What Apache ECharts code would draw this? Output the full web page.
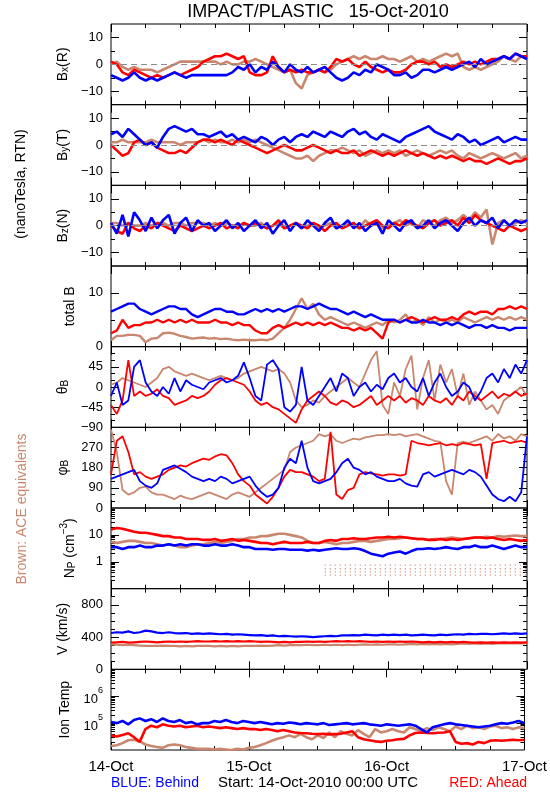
<!DOCTYPE html>
<html><head><meta charset="utf-8">
<script src="https://cdn.jsdelivr.net/npm/echarts@6/dist/echarts.min.js"></script>
<style>html,body{margin:0;padding:0;background:#fff}#c{width:550px;height:800px}</style>
</head><body><div id="c"></div>
<script>
// ---------- DATA (hours since 14-Oct-2010 00:00 UTC) ----------
const hours = [0,1,2,3,4,5,6,7,8,9,10,11,12,13,14,15,16,17,18,19,20,21,22,23,24,25,26,27,28,29,30,31,32,33,34,35,36,37,38,39,40,41,42,43,44,45,46,47,48,49,50,51,52,53,54,55,56,57,58,59,60,61,62,63,64,65,66,67,68,69,70,71,72];
const dayLabels = ['14-Oct','15-Oct','16-Oct','17-Oct'];

// Bx (R), nT
const bxBlue = [-4,-5,-6,-5,-3,-5, -6,-5,-6,-5,-4, -3,-4,-5,-4,-4, -4,-4,-4,-4,-4,-3, -1,-2, 0,-3,-1,-2,1, -1,-3,0,-2,-3,-1, -3,-2,-1,-3, -5,-6,-5, -3,-4,-2,-3, 0,-1,-2,-4, -4,-3,-5,-4, -2,-2,-3,-2,-1,-2, -1,0,1,-1,2,0,1, 2,3,2,4,3,2];
const bxRed  = [1,0, -3,-4,-2,-3, -4,-5,-4,-5,-4, -3,-4,-3,-2,-1, 1,2, 3,3,4,3,2,3, -3,-4,-4,-3,3, -1,-3,-2,-3,-2,-3, -3,-2,-3,-1, 2,1,2, 0,-1,1,-1, -2,-3,-2,-3, -3,-2,0,1, 1,0,1,-1,0,-1, 0,1,0,1,0,1,2, 2,3,2,4,3,3];
const bxBrown= [0,1,-1,-2,-1,-2, -2,-2,-3,-2,-1, 0,1,1,1,1, 1,1,1,0,1,0, 0,1, 1,2,1,0,-1, -2,-3,-2,-7,-9,-4, -3,-2,-3,-2, 0,1,2, 3,2,3,2, 2,3,2,2, 1,2,3,1, 2,1,2,3,4,3, 4,-1,-2,-1,-2,-1,0, 1,3,2,1,3,2];

// By (T), nT
const byBlue = [4,5,3,6,4,2,0,1,-1,3,6,7,6,5,6,4,4, 3,4,5,3,4,2,3,2, 1,3,2,0,2,3,1,3, 4,3,5,4,3,5,4,3, 5,6,4,5,3,2,4,3, 2,1,3,4,5,6,7,5,4, 3,2,4,3,1,2,0, 1,2,3,1,2,3,2,2];
const byRed  = [0,-2,-4,-3,1,2,0,1,-1,-2,-3,-3,-2,-3,-1,1,2, 2,1,2,1,0,2,1,0, -1,-2,-3,-2,-1,0,-1,-2, -2,-1,0,-1,-2,-3,-2,-3, -3,-2,-4,-3,-2,-3,-4,-3, -4,-3,-2,-3,-4,-3,-4,-5,-4, -5,-4,-5,-6,-5,-6,-6, -7,-6,-5,-6,-7,-6,-6,-5];
const byBrown= [1,1,2,1,1,1,1,2,1,1,1,1,0,1,1,1,2, 1,2,1,1,2,1,2,1, 2,1,0,-1,-2,-3,-4,-5, -5,-4,-6,-4,-3,-2,-2,-1, -2,-3,-2,-4,-3,-2,-3,-2, -3,-2,-4,-3,-2,-3,-4,-3,-2, -3,-2,-4,-5,-3,-4,-5, -4,-3,-4,-5,-4,-3,-5,-4];

// Bz (N), nT
const bzBlue = [1,-3,4,-4,5,2,-2,3,-1,2,4,-3,1,3,-2,2,0, 1,-2,0,2,-1,1,-2,0, 2,-1,1,-3,0,2,-2,1, -1,2,0,-2,1,3,-1,0, 2,-1,1,-2,0,1,-3,2, 0,-2,1,2,-1,0,2,-1,1, 2,0,-2,1,3,0,2, 1,3,-1,2,0,2,1,2];
const bzRed  = [0,-2,-3,1,-1,-2,0,-1,1,0,-1,-2,0,-1,-2,-1,0, -1,0,1,-1,0,-1,1,0, 1,0,-1,0,2,-1,0,1, 0,-1,1,0,-2,0,1,-1, 0,1,-1,0,1,2,0,-1, 1,0,2,1,0,-1,1,2,0, 1,2,0,3,1,4,2, 1,0,-1,-2,0,-1,-2,-1];
const bzBrown= [1,1,0,1,0,0,1,0,1,1,0,1,1,0,1,1,1, 0,1,0,1,0,0,1,0, 0,1,-1,0,1,-1,0,1, -1,0,1,-1,0,1,-1,0, 1,0,-1,2,0,1,-1,0, 1,2,0,1,-1,2,1,0,2, 3,1,2,4,2,5,3, 6,-7,1,2,0,1,2,1];

// total B, nT
const btBlue = [6.5,7,7.5,8,8,7,6.5,6,6.5,7,7.5,7.5,7,7,6,5.5,6, 6.5,7,7,6.5,6.5,6,6,6.5, 7,6.5,7,6.5,7,6.5,7,7.5, 7.5,7,7.5,8,7.5,7,7,6.5, 6,6.5,6,5.5,6,5.5,5,5, 5,4.5,5,4.5,4.5,5,4.5,4.5,4, 4.5,4,4.5,4,3.5,4,4, 3.5,4,3.5,3.5,3,3.5,3.5,3.5];
const btRed  = [2.5,3,5,3.5,4,4,4.5,4.5,5,4.5,5,4.5,5,4.5,5,4.5,4.5, 4.5,5,4.5,4.5,4,4.5,4,4, 3,2.5,2.5,3.5,4,3.5,4,4.5, 4,4.5,4,4.5,4,4.5,4,3.5, 3.5,3,3.5,3,3.5,2.5,1.5,4.5, 5,4.5,5,5.5,5,4.5,5,5.5,5, 5,5.5,5,6,6.5,6,6.5, 6.5,6,7,7,7.5,7,7.5,7];
const btBrown= [1.2,2,2,2.2,2.2,2,0.8,1.5,1.6,2.5,2.6,2.4,2,1.8,1.5,1.6,1.7, 1.5,1.6,1.4,1.5,1.3,1.2,1.3,1.2, 1.2,1.3,1.2,1.5,2.5,3.5,5,7, 9,7,8,6,5,5.5,5,4.5, 4,4.5,4,3.5,4,4.5,4,5, 4.5,5,6,4.5,5,4,5.5,4.5,5, 4.5,5,4.5,5.5,5,4.5,5, 5.5,5,5.5,5,5.5,5,5.5,5];

// theta_B, degrees
const thBlue = [-20,10,-40,-30,45,60,10,-10,-20,0,-15,20,-10,15,5,0,-5, 10,15,20,10,15,25,55,20, -20,-30,50,60,40,-45,-55,-40, 45,-30,-40,-20,0,20,-10,30, 20,-20,0,10,-10,5,-5,20, 30,10,20,0,-10,20,-20,10,30, 0,-20,-10,10,0,-30,-10, 20,30,10,40,20,50,30,60];
const thRed  = [-40,-60,-30,60,-20,-10,-20,-15,-5,-20,-25,-40,-35,-30,-20,-25,-20, -10,5,15,20,15,10,5,-10, -30,-40,-35,-45,-50,-60,-70,-80, -50,-30,-20,-10,-20,-35,-40,-30, -35,-45,-40,-30,-20,-40,-30,-20, -30,-20,-35,-25,-30,-40,-20,-30,-35, -25,-40,-20,-30,-10,-20,-30, -20,-10,-25,-15,-20,-10,-20,-15];
const thBrown= [5,10,20,15,10,5,0,10,20,40,45,35,30,25,30,25,20, 15,20,25,20,15,20,30,35, 40,45,40,35,40,30,10,-30, -45,-40,-30,-35,-20,-10,0,10, 20,10,0,30,60,80,-40,-60, 10,-20,40,70,-50,20,60,-30,50, 10,40,-20,30,-40,-10,-30, -50,-40,-60,-30,-20,-10,0,-20];

// phi_B, degrees
const phBlue = [130,140,150,160,170,120,100,90,110,170,180,190,175,160,140,130,120, 130,120,140,130,110,120,130,140, 100,70,50,60,90,180,220,200, 300,180,120,110,120,130,160,200, 220,180,170,150,160,140,130,120, 120,130,110,100,95,150,160,140,150, 160,170,160,150,170,160,140, 100,60,40,30,50,30,70,320];
const phRed  = [150,300,320,250,150,160,140,130,140,150,170,180,190,185,200,210,220, 215,230,240,235,200,150,120,100, 60,40,20,50,90,140,170,160, 160,150,140,120,130,340,60,40, 80,90,150,160,155,150,145,150, 150,145,150,300,290,285,280,285,290, 280,285,280,290,285,280,285, 130,290,295,300,290,295,300,290];
const phBrown= [350,250,80,60,70,90,95,70,60,60,50,40,55,45,40,50,60, 70,60,50,40,60,70,60,50, 70,90,110,130,150,170,250,270, 280,290,300,330,320,330,300,290, 300,310,305,315,320,325,325,330, 325,330,320,325,330,320,310,300,295, 120,60,290,295,290,300,310, 320,300,330,310,320,300,330,320];

// Np, cm^-3
const npBlue = [3.5,3.5,3,3.5,3.5,4,3.5,3.5,4,4,4.5,4,4.5,4,4.5,4.5,4, 4,4.5,4,4,4.5,4,3.5,3.5, 3,3,3,2.8,3,3,2.8,2.8, 2.8,2.6,2.8,2.6,2.8,3,3.2,3, 3,3.2,3,2.5,2,1.8,1.6,2, 2.2,2.4,2,2.5,3,3,3.2,3,3.2, 3.5,3.2,3,3.5,3.5,4,3.5, 3.5,4,3.5,3,3.5,4,3.5,3.5];
const npRed  = [16,18,17,15,13,12,12,11,10,9,9,8,8,7,7,7,6.5, 6.5,7,6,6.5,7,6,6.5,6, 5.5,5,5,4.5,5,5.5,5,5, 5,5.5,5,5,6,6.5,6,7, 7,7.5,7,7,7.5,8,8,8.5, 8,8.5,8,7.5,7,7,6.5,6.5,7, 6.5,7,6.5,7,7.5,8,8, 7.5,8,7,6.5,7,6.5,6,6.5];
const npBrown= [5.5,5,5.5,6,6,5.5,5,5,4.5,4,4.5,4,3.5,3.5,4,4.5,4.5, 5,5.5,5,5.5,6,7,7,8, 8,9,9,10,11,11,10,9, 8,6,5,5,5.5,5,4.5,5, 5,5.5,6,6,5.5,6,6.5,7, 7,7.5,8,7.5,7,7,6.5,7,7, 7.5,8,7.5,7,7.5,8,8, 8.5,8,9,8.5,9,9.5,9,9];
// quantised low ACE density rows (cm^-3) and the hours they span
const npBrownLowLevels = [0.75,0.55,0.42,0.32];
const npBrownLowSpan = [37,72];

// V, km/s
const vBlue = [450,460,455,470,450,460,480,470,455,450,460,450,445,450,440,445,440, 445,440,435,440,430,435,430,425, 420,425,415,420,410,415,410,405, 410,405,400,405,410,415,410,420, 420,425,420,430,425,420,430,425, 430,425,430,420,425,430,425,420,430, 425,430,435,430,440,435,440, 440,435,440,445,440,445,440,445];
const vRed  = [330,335,340,330,335,340,345,340,335,340,345,340,345,340,345,350,345, 345,350,345,350,345,350,345,350, 345,340,345,340,335,340,335,340, 340,345,340,345,340,345,350,345, 350,345,350,345,340,345,340,345, 340,345,340,345,340,335,340,335,340, 335,340,335,340,335,330,335, 330,335,330,335,330,335,330,335];
const vBrown= [310,305,300,305,300,295,290,290,290,295,290,290,285,290,285,290,290, 290,285,290,285,290,285,290,290, 290,295,290,295,300,295,300,300, 300,305,300,300,305,300,305,300, 305,300,305,310,305,310,305,310, 310,305,310,315,310,315,310,315,310, 315,310,315,320,315,320,315, 320,315,320,325,320,325,320,325];

// Ion temperature, K
const tBlue = [1.1e5,1.0e5,1.2e5,0.9e5,1.3e5,1.5e5,1.2e5,1.4e5,1.1e5,1.5e5,1.2e5,1.1e5,1.3e5,1.0e5,1.1e5,0.9e5,1.0e5, 1.0e5,1.2e5,1.1e5,1.3e5,1.1e5,1.0e5,1.2e5,1.1e5, 1.0e5,1.1e5,1.0e5,0.9e5,1.0e5,0.95e5,1.05e5,1.0e5, 0.9e5,1.0e5,0.95e5,0.9e5,1.0e5,0.85e5,0.9e5,0.95e5, 1.0e5,0.9e5,0.95e5,1.0e5,0.9e5,0.85e5,0.8e5,0.9e5, 0.85e5,0.8e5,0.85e5,0.9e5,0.8e5,0.6e5,0.45e5,0.7e5,0.8e5, 0.9e5,1.0e5,0.9e5,0.85e5,0.8e5,0.75e5,0.7e5, 0.75e5,0.8e5,0.9e5,1.0e5,0.95e5,1.05e5,1.2e5,1.0e5];
const tRed  = [3.5e4,3.2e4,3.6e4,4.2e4,3.0e4,2.0e4,6e4,8e4,7e4,9e4,8e4,7.5e4,8e4,7e4,7.5e4,8e4,7e4, 7.5e4,7e4,6.5e4,7e4,6.5e4,6e4,6.5e4,6e4, 6e4,5.5e4,6e4,5.5e4,5e4,5.5e4,5e4,4.5e4, 4.3e4,4.2e4,4e4,3.9e4,4e4,3.8e4,3.9e4,4e4, 4.5e4,5e4,3e4,2.5e4,2.3e4,2.1e4,2e4,2.2e4, 2.3e4,2.5e4,2.6e4,3.5e4,4.3e4,4.5e4,4.3e4,4.2e4,4.4e4, 4.5e4,5e4,2e4,1.7e4,1.8e4,1.6e4,2e4, 1.8e4,2.2e4,2.3e4,2.2e4,2.3e4,2.4e4,2.3e4,2.4e4];
const tBrown= [1.4e4,1.5e4,1.8e4,2.3e4,2.4e4,2.1e4,1.6e4,1.4e4,1.3e4,1.2e4,1.5e4,1.6e4,1.5e4,1.3e4,1.2e4,1.1e4,1.1e4, 1.1e4,1.05e4,1.1e4,1.05e4,1.0e4,1.1e4,1.05e4,1.2e4, 1.3e4,1.5e4,1.8e4,2.2e4,2.6e4,3e4,3.5e4,3e4, 4e4,3e4,2.5e4,3.5e4,2.8e4,4.5e4,3e4,5e4, 4e4,3.5e4,5.5e4,4e4,3e4,6e4,4.5e4,5e4, 6e4,5e4,4.5e4,7e4,6e4,5e4,6.5e4,5.5e4,7e4, 6e4,5e4,7.5e4,6e4,8e4,6.5e4,7e4, 6e4,7.5e4,8e4,6.5e4,7e4,6e4,7e4,6.5e4];

// tick values
const bTicksMajor = [-10,0,10], bTicksMinor = [-5,5], bLabels = [-10,0,10];
const btTicksMajor = [0,10], btTicksMinor = [5], btLabels = [0,10];
const thTicksMajor = [-45,0,45], thTicksMinor = [-75,-60,-30,-15,15,30,60,75], thLabels = [-90,-45,0,45];
const phTicksMajor = [90,180,270], phTicksMinor = [30,60,120,150,210,240,300,330], phLabels = [0,90,180,270];
const npTicksMajor = [1,10], npTicksMinor = [0.2,0.3,0.4,0.5,0.6,0.7,0.8,0.9,2,3,4,5,6,7,8,9,20,30,40,50,60,70,80,90], npLabels = [1,10];
const vTicksMajor = [400,800], vTicksMinor = [100,200,300,500,600,700,900], vLabels = [0,400,800];
const tTicksMajor = [1e5,1e6], tTicksMinor = [2e4,3e4,4e4,5e4,6e4,7e4,8e4,9e4,2e5,3e5,4e5,5e5,6e5,7e5,8e5,9e5,2e6,3e6,4e6,5e6,6e6,7e6,8e6,9e6], tLabels = [1e5,1e6];

// ---------- STYLE / LAYOUT ----------
const FONT = '"Liberation Sans", Arial, sans-serif';
const BLUE = '#0000ff', RED = '#ff0000', BROWN = '#c8876e';
const minusFmt = v => (v < 0 ? '\u2212' + Math.abs(v) : String(v));
const nameRich = {
  a: {fontSize: 14, fontFamily: FONT, color: '#000', lineHeight: 18, verticalAlign: 'bottom'},
  s: {fontSize: 10, fontFamily: FONT, color: '#000', lineHeight: 10, verticalAlign: 'bottom'},
  p: {fontSize: 10, fontFamily: FONT, color: '#000', lineHeight: 10, verticalAlign: 'top'}
};
const panels = [
  {name: '{a|B}{s|x}{a|(R)}', gap: 38, type: 'value', min: -15, max: 15, major: bTicksMajor, minor: bTicksMinor, labels: bLabels, d: [bxBrown, bxRed, bxBlue], w: 2.6, zero: true},
  {name: '{a|B}{s|y}{a|(T)}', gap: 38, type: 'value', min: -15, max: 15, major: bTicksMajor, minor: bTicksMinor, labels: bLabels, d: [byBrown, byRed, byBlue], w: 2.6, zero: true},
  {name: '{a|B}{s|z}{a|(N)}', gap: 38, type: 'value', min: -15, max: 15, major: bTicksMajor, minor: bTicksMinor, labels: bLabels, d: [bzBrown, bzRed, bzBlue], w: 2.6, zero: true},
  {name: '{a|total B}', gap: 27, type: 'value', min: 0, max: 15, major: btTicksMajor, minor: btTicksMinor, labels: btLabels, d: [btBrown, btRed, btBlue], w: 2.4},
  {name: '{a|\u03b8}{s|B}', gap: 32, type: 'value', min: -90, max: 90, major: thTicksMajor, minor: thTicksMinor, labels: thLabels, d: [thBrown, thRed, thBlue], w: 1.8},
  {name: '{a|\u03c6}{s|B}', gap: 31, type: 'value', min: 0, max: 360, major: phTicksMajor, minor: phTicksMinor, labels: phLabels, d: [phBrown, phRed, phBlue], w: 1.8},
  {name: '{a|N}{s|P}{a| (cm}{p|\u22123}{a|)}', gap: 24, type: 'log', min: 0.1, max: 100, major: npTicksMajor, minor: npTicksMinor, labels: npLabels, d: [npBrown, npRed, npBlue], w: 2.6, low: true},
  {name: '{a|V (km/s)}', gap: 36, type: 'value', min: 0, max: 1000, major: vTicksMajor, minor: vTicksMinor, labels: vLabels, d: [vBrown, vRed, vBlue], w: 2.2},
  {name: '{a|Ion Temp}', gap: 32, type: 'log', min: 1e4, max: 1e7, major: tTicksMajor, minor: tTicksMinor, labels: tLabels, d: [tBrown, tRed, tBlue], w: 2.6, exp: true}
];

const TOP = 24, PH = 726 / 9, LEFT = 111, W = 416;
const grids = [], xAxes = [], yAxes = [], series = [];
panels.forEach((p, i) => {
  grids.push({left: LEFT, width: W, top: TOP + i * PH, height: PH, show: true, borderColor: '#000', borderWidth: 1, backgroundColor: 'transparent'});
  const xBase = {gridIndex: i, type: 'value', min: 0, max: 72, interval: 24,
    axisLine: {show: false, onZero: false}, splitLine: {show: false},
    axisTick: {show: true, inside: true, length: 8, lineStyle: {color: '#000', width: 1}},
    minorTick: {show: true, splitNumber: 4, length: 4, lineStyle: {color: '#000', width: 1}},
    axisLabel: {show: false}};
  const xb = Object.assign({}, xBase, {position: 'bottom'});
  if (i === panels.length - 1) {
    xb.axisLabel = {show: true, margin: 9, fontSize: 15, fontFamily: FONT, color: '#000', formatter: v => dayLabels[Math.round(v / 24)]};
  }
  xAxes.push(xb);
  xAxes.push(Object.assign({}, xBase, {position: 'top'}));
  const mk = (pos, major) => {
    const a = {gridIndex: i, type: p.type, min: p.min, max: p.max, position: pos,
      axisLine: {show: false, onZero: false}, splitLine: {show: false}, minorTick: {show: false},
      axisLabel: {show: false},
      axisTick: {show: true, inside: true, length: major ? 8 : 4, customValues: major ? p.major : p.minor, lineStyle: {color: '#000', width: 1}}};
    if (p.type === 'log') a.logBase = 10;
    return a;
  };
  yAxes.push(mk('left', false));
  const lm = mk('left', true);
  lm.axisLabel = {show: true, customValues: p.labels, margin: 8, fontSize: 13, fontFamily: FONT, color: '#000',
    formatter: p.exp ? (v => '{b|10}{e|' + Math.round(Math.log10(v)) + '}') : minusFmt,
    rich: {b: {fontSize: 13, fontFamily: FONT, color: '#000', lineHeight: 20, verticalAlign: 'bottom'},
           e: {fontSize: 9, fontFamily: FONT, color: '#000', lineHeight: 9, verticalAlign: 'top'}}};
  lm.name = p.name; lm.nameLocation = 'middle'; lm.nameRotate = 90; lm.nameGap = p.gap;
  lm.nameTextStyle = {fontFamily: FONT, fontSize: 14, color: '#000', rich: nameRich};
  yAxes.push(lm);
  yAxes.push(mk('right', false));
  yAxes.push(mk('right', true));
  const colors = [BROWN, RED, BLUE];
  p.d.forEach((arr, k) => {
    const s = {type: 'line', xAxisIndex: 2 * i, yAxisIndex: 4 * i + 1,
      data: hours.map((h, j) => [h, arr[j]]), symbol: 'none', showSymbol: false, silent: true,
      lineStyle: {color: colors[k], width: p.w, join: 'bevel'}, itemStyle: {color: colors[k]}, z: 2 + k, clip: true, animation: false};
    if (k === 0 && p.zero) {
      s.markLine = {silent: true, symbol: 'none', animation: false, label: {show: false},
        lineStyle: {color: '#8c8c8c', type: [6, 4], width: 1}, data: [{yAxis: 0}]};
    }
    series.push(s);
  });
  if (p.low) {
    npBrownLowLevels.forEach(lv => {
      series.push({type: 'line', xAxisIndex: 2 * i, yAxisIndex: 4 * i + 1, data: npBrownLowSpan.map(h => [h, lv]),
        symbol: 'none', silent: true, lineStyle: {color: BROWN, width: 1.3, type: [1, 4]}, z: 1, animation: false});
    });
  }
});

const chart = echarts.init(document.getElementById('c'), null, {renderer: 'canvas', width: 550, height: 800});
chart.setOption({
  animation: false,
  backgroundColor: '#fff',
  grid: grids, xAxis: xAxes, yAxis: yAxes, series: series,
  graphic: [
    {type: 'text', x: 318, y: 12, style: {text: 'IMPACT/PLASTIC   15-Oct-2010', font: '18px ' + FONT, fill: '#000', align: 'center', verticalAlign: 'middle'}},
    {type: 'text', x: 21, y: 184, rotation: Math.PI / 2, style: {text: '(nanoTesla, RTN)', font: '14px ' + FONT, fill: '#000', align: 'center', verticalAlign: 'middle'}},
    {type: 'text', x: 22, y: 509, rotation: Math.PI / 2, style: {text: 'Brown: ACE equivalents', font: '14px ' + FONT, fill: BROWN, align: 'center', verticalAlign: 'middle'}},
    {type: 'text', x: 111, y: 783, style: {text: 'BLUE: Behind', font: '14px ' + FONT, fill: BLUE, align: 'left', verticalAlign: 'middle'}},
    {type: 'text', x: 318, y: 783, style: {text: 'Start: 14-Oct-2010 00:00 UTC', font: '15px ' + FONT, fill: '#000', align: 'center', verticalAlign: 'middle'}},
    {type: 'text', x: 527, y: 783, style: {text: 'RED: Ahead', font: '14px ' + FONT, fill: RED, align: 'right', verticalAlign: 'middle'}}
  ]
});
</script></body></html>
